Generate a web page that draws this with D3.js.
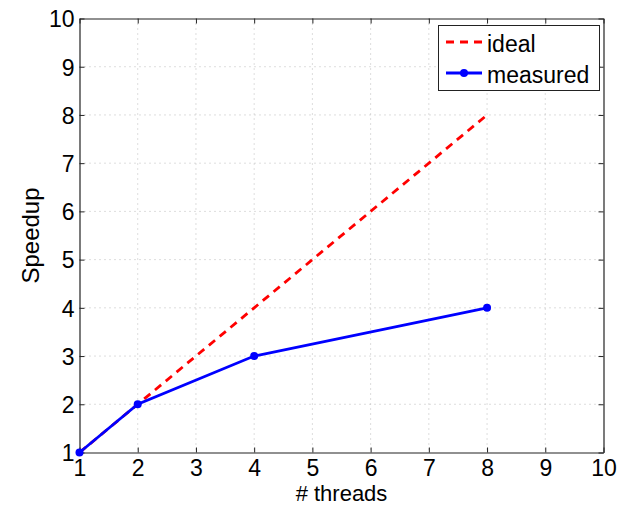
<!DOCTYPE html>
<html><head><meta charset="utf-8">
<script src="https://cdn.jsdelivr.net/npm/d3@7"></script>
<style>body{margin:0;background:#fff;} text{font-family:"Liberation Sans",Arial,sans-serif;}</style>
</head><body>
<svg id="c" width="621" height="506"></svg>
<script>
const threads = [1, 2, 4, 8];
const ideal = [1, 2, 4, 8];
const measured = [1, 2, 3, 4];
const xTicks = [1,2,3,4,5,6,7,8,9,10];
const yTicks = [1,2,3,4,5,6,7,8,9,10];

const svg = d3.select("#c");
const L = 79.5, R = 603.5, T = 18.5, B = 452.5;
const x = d3.scaleLinear().domain([1,10]).range([L,R]);
const y = d3.scaleLinear().domain([1,10]).range([B,T]);

// grid
const g = svg.append("g");
g.selectAll(".gx").data(xTicks.slice(1,-1)).enter().append("line")
  .attr("x1",d=>x(d)).attr("x2",d=>x(d)).attr("y1",T).attr("y2",B)
  .attr("stroke","#bbb").attr("stroke-width",1).attr("stroke-dasharray","1,4");
g.selectAll(".gy").data(yTicks.slice(1,-1)).enter().append("line")
  .attr("y1",d=>y(d)).attr("y2",d=>y(d)).attr("x1",L).attr("x2",R)
  .attr("stroke","#bbb").attr("stroke-width",1).attr("stroke-dasharray","1,4");

// axes
const fs = "23px";
const xa = svg.append("g").attr("transform",`translate(0,${B})`)
  .call(d3.axisBottom(x).tickValues(xTicks).tickSizeInner(-5).tickSizeOuter(0).tickPadding(23.5));
const xt = svg.append("g").attr("transform",`translate(0,${T})`)
  .call(d3.axisTop(x).tickValues(xTicks).tickSizeInner(-5).tickSizeOuter(0).tickFormat(""));
const ya = svg.append("g").attr("transform",`translate(${L},0)`)
  .call(d3.axisLeft(y).tickValues(yTicks).tickSizeInner(-5).tickSizeOuter(0).tickPadding(5));
const yr = svg.append("g").attr("transform",`translate(${R},0)`)
  .call(d3.axisRight(y).tickValues(yTicks).tickSizeInner(-5).tickSizeOuter(0).tickFormat(""));
[xa,xt,ya,yr].forEach(a=>{
  a.selectAll("path").attr("stroke","#222").attr("stroke-width",1.2);
  a.selectAll("line").attr("stroke","#222");
  a.selectAll("text").attr("font-size",fs).attr("fill","#000")
   .style("font-family","'Liberation Sans',Arial,sans-serif");
});
xa.selectAll("text").attr("dy","0");
ya.selectAll("text").attr("dy","0.36em");

// ideal line
svg.append("path").datum(threads.map((t,i)=>[t,ideal[i]]))
  .attr("d",d3.line().x(d=>x(d[0])).y(d=>y(d[1])))
  .attr("fill","none").attr("stroke","#ff0000").attr("stroke-width",2.8).attr("stroke-dasharray","8,6");
// measured
svg.append("path").datum(threads.map((t,i)=>[t,measured[i]]))
  .attr("d",d3.line().x(d=>x(d[0])).y(d=>y(d[1])))
  .attr("fill","none").attr("stroke","#0000ff").attr("stroke-width",2.8);
svg.selectAll(".pt").data(threads.map((t,i)=>[t,measured[i]])).enter().append("circle")
  .attr("cx",d=>x(d[0])).attr("cy",d=>y(d[1])).attr("r",4).attr("fill","#0000ff");

// labels
svg.append("text").attr("x",(L+R)/2).attr("y",501).attr("text-anchor","middle")
  .attr("font-size","22px").text("# threads");
svg.append("text").attr("transform",`translate(39,${(T+B)/2}) rotate(-90)`).attr("text-anchor","middle")
  .attr("font-size","24px").text("Speedup");

// legend
const lg = svg.append("g");
lg.append("rect").attr("x",438.5).attr("y",25.5).attr("width",161).attr("height",65)
  .attr("fill","#fff").attr("stroke","#222").attr("stroke-width",1);
lg.append("line").attr("x1",446).attr("x2",482).attr("y1",42).attr("y2",42)
  .attr("stroke","#ff0000").attr("stroke-width",2.8).attr("stroke-dasharray","8,6");
lg.append("text").attr("x",487).attr("y",52).attr("font-size","23px").text("ideal");
lg.append("line").attr("x1",446).attr("x2",482).attr("y1",73).attr("y2",73)
  .attr("stroke","#0000ff").attr("stroke-width",2.8);
lg.append("circle").attr("cx",464).attr("cy",73).attr("r",4).attr("fill","#0000ff");
lg.append("text").attr("x",487).attr("y",83).attr("font-size","23px").text("measured");
</script>
</body></html>
